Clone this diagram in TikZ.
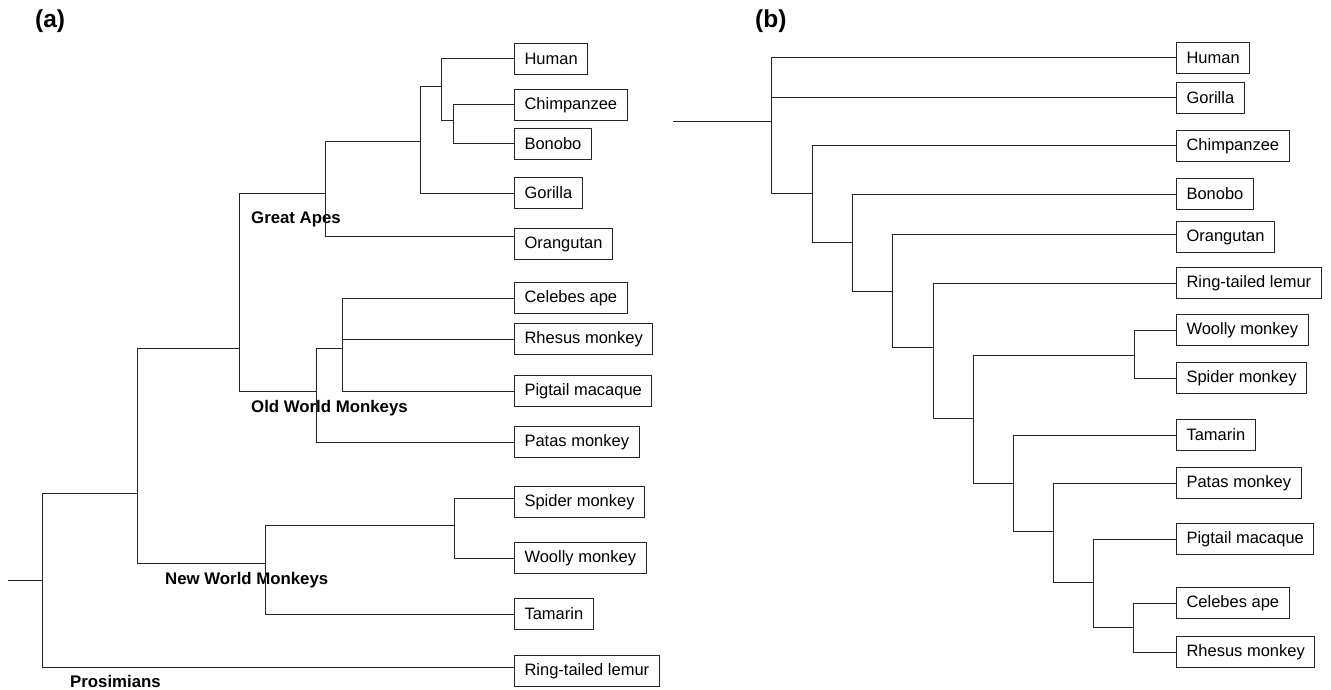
\documentclass[tikz,border=0pt]{standalone}
\usepackage{fontspec}
\setmainfont{Liberation Sans}
\tikzset{taxon/.style={draw=black!85, line width=1pt, anchor=west, minimum height=31.5pt,
   inner xsep=10pt, inner ysep=0pt, font=\fontsize{16.5}{18}\selectfont},
 clade/.style={anchor=base west, inner sep=0pt, font=\fontsize{16.8}{18}\selectfont\bfseries},
 panel/.style={anchor=base west, inner sep=0pt, font=\fontsize{24.5}{26}\selectfont\bfseries},
 branch/.style={draw=black!85, line width=1pt},
 }

\begin{document}
\begin{tikzpicture}[x=1pt, y=-1pt]
    \useasboundingbox (0,0) rectangle (1331,690);

    \node[panel] (pa) at (35,28) {(a)};
    \node[panel] (pb) at (755,28) {(b)};

    \node[taxon] (aHuman) at (514,59) {Human};
    \node[taxon] (aChimp) at (514,105) {Chimpanzee};
    \node[taxon] (aBonobo) at (514,144) {Bonobo};
    \node[taxon] (aGorilla) at (514,193) {Gorilla};
    \node[taxon] (aOrang) at (514,244) {Orangutan};
    \node[taxon] (aCelebes) at (514,298) {Celebes ape};
    \node[taxon] (aRhesus) at (514,339) {Rhesus monkey};
    \node[taxon] (aPigtail) at (514,391) {Pigtail macaque};
    \node[taxon] (aPatas) at (514,442) {Patas monkey};
    \node[taxon] (aSpider) at (514,502) {Spider monkey};
    \node[taxon] (aWoolly) at (514,558) {Woolly monkey};
    \node[taxon] (aTamarin) at (514,614) {Tamarin};
    \node[taxon] (aLemur) at (514,671) {Ring-tailed lemur};

    \node[clade] (apes) at (251,223) {Great Apes};
    \node[clade] (oldw) at (251,412) {Old World Monkeys};
    \node[clade] (neww) at (165,584) {New World Monkeys};
    \node[clade] (pros) at (70,687) {Prosimians};

    \coordinate (a0) at (8,580);
    \coordinate (ar) at (42,580);
    \coordinate (aA) at (137,493);
    \coordinate (aB) at (239,348);
    \coordinate (aGA) at (325,193);
    \coordinate (aH) at (420,142);
    \coordinate (aI) at (441,87);
    \coordinate (aJ) at (453,121);
    \coordinate (aOW) at (316,391);
    \coordinate (aC) at (342,348);
    \coordinate (aNW) at (265,563);
    \coordinate (aK) at (454,525);

    \draw[branch] (a0) -- (ar);
    \draw[branch] (ar) |- (aA);
    \draw[branch] (ar) |- ([yshift=4pt]aLemur.west);
    \draw[branch] (aA) |- (aB);
    \draw[branch] (aA) |- (aNW);
    \draw[branch] (aB) |- (aGA);
    \draw[branch] (aB) |- (aOW);
    \draw[branch] (aGA) |- (aH);
    \draw[branch] (aGA) |- ([yshift=8pt]aOrang.west);
    \draw[branch] (aH) |- (aI);
    \draw[branch] (aH) |- (aGorilla.west);
    \draw[branch] (aI) |- (aHuman.west);
    \draw[branch] (aI) |- (aJ);
    \draw[branch] (aJ) |- (aChimp.west);
    \draw[branch] (aJ) |- (aBonobo.west);
    \draw[branch] (aOW) |- (aC);
    \draw[branch] (aOW) |- (aPatas.west);
    \draw[branch] (aC) |- (aCelebes.west);
    \draw[branch] (aC) |- (aRhesus.west);
    \draw[branch] (aC) |- (aPigtail.west);
    \draw[branch] (aNW) |- (aK);
    \draw[branch] (aNW) |- (aTamarin.west);
    \draw[branch] (aK) |- ([yshift=4pt]aSpider.west);
    \draw[branch] (aK) |- (aWoolly.west);

    \node[taxon] (bHuman) at (1176,58) {Human};
    \node[taxon] (bGorilla) at (1176,98) {Gorilla};
    \node[taxon] (bChimp) at (1176,146) {Chimpanzee};
    \node[taxon] (bBonobo) at (1176,194) {Bonobo};
    \node[taxon] (bOrang) at (1176,237) {Orangutan};
    \node[taxon] (bLemur) at (1176,283) {Ring-tailed lemur};
    \node[taxon] (bWoolly) at (1176,330) {Woolly monkey};
    \node[taxon] (bSpider) at (1176,378) {Spider monkey};
    \node[taxon] (bTamarin) at (1176,435) {Tamarin};
    \node[taxon] (bPatas) at (1176,483) {Patas monkey};
    \node[taxon] (bPigtail) at (1176,539) {Pigtail macaque};
    \node[taxon] (bCelebes) at (1176,603) {Celebes ape};
    \node[taxon] (bRhesus) at (1176,652) {Rhesus monkey};

    \coordinate (b0) at (673,122);
    \coordinate (br) at (771,122);
    \coordinate (bP) at (812,193);
    \coordinate (bQ) at (852,242);
    \coordinate (bR) at (892,291);
    \coordinate (bS) at (933,347);
    \coordinate (bT) at (973,418);
    \coordinate (bU) at (1134,355);
    \coordinate (bV) at (1013,483);
    \coordinate (bW) at (1053,531);
    \coordinate (bX) at (1093,582);
    \coordinate (bY) at (1133,627);

    \draw[branch] (b0) -- (br);
    \draw[branch] (br) |- (bHuman.west);
    \draw[branch] (br) |- (bGorilla.west);
    \draw[branch] (br) |- (bP);
    \draw[branch] (bP) |- (bChimp.west);
    \draw[branch] (bP) |- (bQ);
    \draw[branch] (bQ) |- (bBonobo.west);
    \draw[branch] (bQ) |- (bR);
    \draw[branch] (bR) |- ([yshift=3pt]bOrang.west);
    \draw[branch] (bR) |- (bS);
    \draw[branch] (bS) |- (bLemur.west);
    \draw[branch] (bS) |- (bT);
    \draw[branch] (bT) |- (bU);
    \draw[branch] (bT) |- (bV);
    \draw[branch] (bU) |- (bWoolly.west);
    \draw[branch] (bU) |- (bSpider.west);
    \draw[branch] (bV) |- (bTamarin.west);
    \draw[branch] (bV) |- (bW);
    \draw[branch] (bW) |- (bPatas.west);
    \draw[branch] (bW) |- (bX);
    \draw[branch] (bX) |- (bPigtail.west);
    \draw[branch] (bX) |- (bY);
    \draw[branch] (bY) |- (bCelebes.west);
    \draw[branch] (bY) |- (bRhesus.west);
\end{tikzpicture}
\end{document}
